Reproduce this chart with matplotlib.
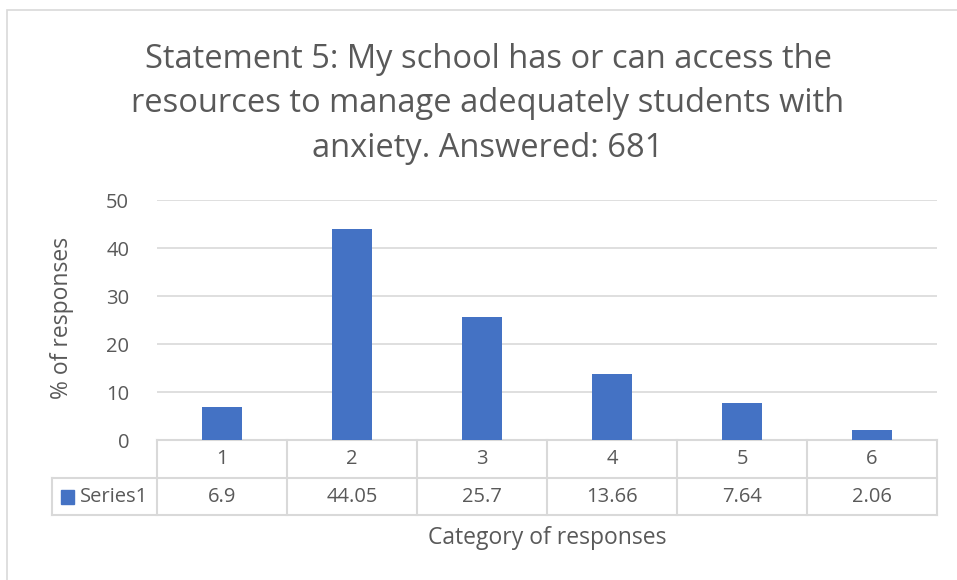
import matplotlib
matplotlib.use("Agg")
import matplotlib.pyplot as plt
from matplotlib.patches import Rectangle
from matplotlib.lines import Line2D
from matplotlib.transforms import blended_transform_factory

categories = ["1", "2", "3", "4", "5", "6"]
values = [6.9, 44.05, 25.7, 13.66, 7.64, 2.06]
value_labels = ["6.9", "44.05", "25.7", "13.66", "7.64", "2.06"]
series_name = "Series1"
yticks = [0, 10, 20, 30, 40, 50]
title = "Statement 5: My school has or can access the\nresources to manage adequately students with\nanxiety. Answered: 681"
xlabel = "Category of responses"
ylabel = "% of responses"

plt.rcParams['font.family'] = ['Open Sans', 'DejaVu Sans']
TXT = "#595959"
GRID = "#D9D9D9"
BAR = "#4472C4"
FS = 14.5

W, H = 957, 580
fig = plt.figure(figsize=(W/100, H/100), dpi=100)

def fx(px): return px / W
def fy(py): return 1 - py / H

# chart border
fig.patches.append(Rectangle((fx(7), fy(600)), fx(960) - fx(7), fy(10) - fy(600),
                             transform=fig.transFigure, fill=False, edgecolor=GRID, lw=1.2))

left, right, top, bottom = 157, 937, 200, 440
ax = fig.add_axes([fx(left), fy(bottom), fx(right) - fx(left), fy(top) - fy(bottom)])
x = list(range(len(categories)))
ax.bar(x, values, width=0.31, color=BAR, zorder=3)
ax.set_xlim(-0.5, len(categories) - 0.5)
ax.set_ylim(0, 50)
ax.set_yticks(yticks)
ax.set_yticklabels([str(t) for t in yticks], fontsize=FS, color=TXT)
ax.tick_params(axis='y', length=0, pad=20)
ax.set_xticks([])
ax.grid(axis='y', color=GRID, lw=1.2, zorder=0)
for s in ax.spines.values():
    s.set_visible(False)

# data table
pxh = 1 / (bottom - top)  # axes fraction per pixel
trans = blended_transform_factory(ax.transData, ax.transAxes)
r1 = -38 * pxh
r2 = -75 * pxh
xl = -0.5 - (left - 52) / ((right - left) / len(categories))
lk = dict(color=GRID, lw=1.5, transform=trans, clip_on=False)
ax.add_line(Line2D([-0.5, len(categories) - 0.5], [0, 0], **lk))
ax.add_line(Line2D([xl, len(categories) - 0.5], [r1, r1], **lk))
ax.add_line(Line2D([xl, len(categories) - 0.5], [r2, r2], **lk))
for i in range(len(categories) + 1):
    ax.add_line(Line2D([i - 0.5, i - 0.5], [0, r2], **lk))
ax.add_line(Line2D([xl, xl], [r1, r2], **lk))
for i, (c, v) in enumerate(zip(categories, value_labels)):
    ax.text(i, r1 / 2, c, transform=trans, ha='center', va='center', fontsize=FS, color=TXT)
    ax.text(i, (r1 + r2) / 2, v, transform=trans, ha='center', va='center', fontsize=FS, color=TXT)
ax.add_patch(Rectangle((xl + 0.07, (r1 + r2) / 2 - 7 * pxh), 0.1, 14 * pxh,
                       transform=trans, color=BAR, clip_on=False))
ax.text(xl + 0.215, (r1 + r2) / 2, series_name, transform=trans, ha='left', va='center',
        fontsize=FS, color=TXT)

fig.text(fx(547), fy(538), xlabel, ha='center', va='center', fontsize=16.5, color=TXT)
fig.text(fx(62), fy(318), ylabel, ha='center', va='center', rotation=90, fontsize=16.5, color=TXT)
fig.text(fx(488), fy(104), title, ha='center', va='center', fontsize=23.5, color=TXT,
         linespacing=1.45)

fig.savefig("out.png", dpi=100)
